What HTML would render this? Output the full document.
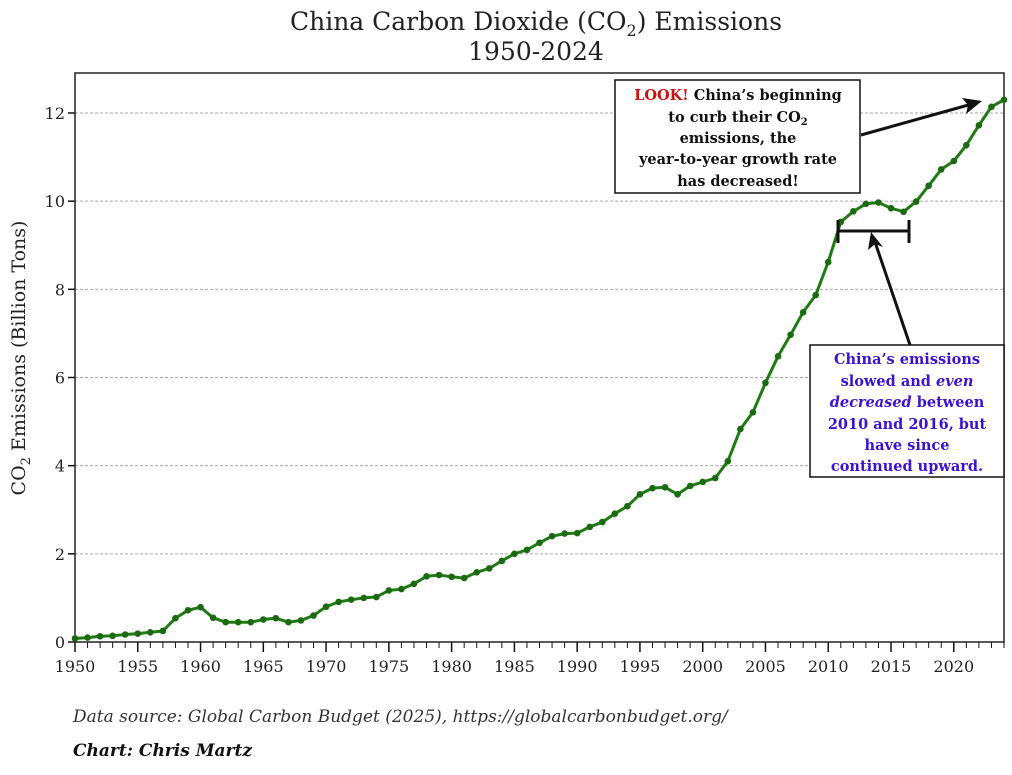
<!DOCTYPE html>
<html><head><meta charset="utf-8"><style>
body{margin:0;background:#fff;}
svg text{font-family:"DejaVu Serif","Liberation Serif",serif;}
</style></head><body>
<svg id="chart" width="1012" height="770" viewBox="0 0 1012 770" xmlns="http://www.w3.org/2000/svg">
<text x="536" y="30" text-anchor="middle" font-size="25" fill="#222">China Carbon Dioxide (CO<tspan font-size="16" dy="6">2</tspan><tspan dy="-6">) Emissions</tspan></text>
<text x="536" y="60" text-anchor="middle" font-size="25" fill="#222">1950-2024</text>
<g id="grid"></g>
<g id="axes"></g>
<path id="line" fill="none" stroke="#1f7a14" stroke-width="3"/>
<g id="points"></g>
<text transform="translate(25,358) rotate(-90)" text-anchor="middle" font-size="19" fill="#222">CO<tspan font-size="13" dy="5">2</tspan><tspan dy="-5"> Emissions (Billion Tons)</tspan></text>
<g stroke="#111" stroke-width="3">
<line x1="838" y1="231" x2="909" y2="231"/><line x1="838" y1="220" x2="838" y2="243"/><line x1="909" y1="220" x2="909" y2="243"/></g>
<g><line x1="861" y1="135" x2="972" y2="104" stroke="#111" stroke-width="3"/><path d="M982,101 L962,98 L968,105 L966,114 Z" fill="#111"/></g>
<g><line x1="910" y1="345" x2="875" y2="242" stroke="#111" stroke-width="3"/><path d="M871,232 L868,250 L875,244 L883,247 Z" fill="#111"/></g>
<rect x="615" y="80" width="245" height="113" fill="#fff" stroke="#111" stroke-width="1.5"/>
<g font-size="14.5" font-weight="bold" text-anchor="middle" fill="#111">
<text x="738" y="100"><tspan fill="#d01010">LOOK!</tspan> China’s beginning</text>
<text x="738" y="122">to curb their CO<tspan font-size="10" dy="3">2</tspan></text>
<text x="738" y="143">emissions, the</text>
<text x="738" y="164">year-to-year growth rate</text>
<text x="738" y="186">has decreased!</text></g>
<rect x="810" y="345" width="194" height="132" fill="#fff" stroke="#111" stroke-width="1.5"/>
<g font-size="14.5" font-weight="bold" text-anchor="middle" fill="#3a12d0">
<text x="907" y="364">China’s emissions</text>
<text x="907" y="386">slowed and <tspan font-style="italic">even</tspan></text>
<text x="907" y="407"><tspan font-style="italic">decreased</tspan> between</text>
<text x="907" y="429">2010 and 2016, but</text>
<text x="907" y="450">have since</text>
<text x="907" y="471">continued upward.</text></g>
<text x="73" y="722" font-size="17" font-style="italic" fill="#333">Data source: Global Carbon Budget (2025), https://globalcarbonbudget.org/</text>
<text x="73" y="756" font-size="17" font-style="italic" font-weight="bold" fill="#111">Chart: Chris Martz</text>
</svg>
<script>
const years=[];for(let y=1950;y<=2024;y++)years.push(y);
const emissions=[0.08,0.10,0.13,0.14,0.17,0.19,0.22,0.25,0.54,0.72,0.79,0.55,0.45,0.45,0.45,0.51,0.54,0.45,0.49,0.60,0.80,0.91,0.96,1.00,1.02,1.17,1.20,1.32,1.49,1.52,1.48,1.45,1.58,1.67,1.84,2.00,2.09,2.25,2.40,2.46,2.47,2.61,2.72,2.91,3.08,3.35,3.49,3.51,3.35,3.54,3.63,3.72,4.10,4.83,5.21,5.88,6.48,6.97,7.48,7.87,8.62,9.53,9.77,9.94,9.97,9.84,9.76,9.99,10.35,10.72,10.91,11.27,11.72,12.14,12.30];
const yTicks=[0,2,4,6,8,10,12];
const xTicks=[1950,1955,1960,1965,1970,1975,1980,1985,1990,1995,2000,2005,2010,2015,2020];
const L=75,R=1004,T=73,B=642,X0=1950,X1=2024,YMAX=(B-T)/((642-113)/12);
const NS="http://www.w3.org/2000/svg";
const xs=v=>L+(v-X0)/(X1-X0)*(R-L);
const ys=v=>B-v*(642-113)/12;
function mk(tag,attrs,parent){const e=document.createElementNS(NS,tag);for(const k in attrs)e.setAttribute(k,attrs[k]);parent.appendChild(e);return e;}
const grid=document.getElementById('grid'),axes=document.getElementById('axes'),pts=document.getElementById('points');
yTicks.forEach(t=>{
 if(t>0){const g=mk('line',{x1:L,x2:R,y1:ys(t),y2:ys(t),stroke:'#aaa','stroke-width':1,'stroke-dasharray':'3,2'},grid);
 
 }
 const tk=mk('line',{x1:L-7,x2:L,y1:ys(t),y2:ys(t),stroke:'#111','stroke-width':1.5},axes);
 
 
 const tx=mk('text',{x:L-10,y:ys(t)+6,'text-anchor':'end','font-size':16,fill:'#222'},axes);tx.textContent=t;
 
 
});
years.forEach(y=>{
 const major=xTicks.includes(y);
 const tk=mk('line',{x1:xs(y),x2:xs(y),y1:B,y2:B+(major?10:6),stroke:'#111','stroke-width':major?1.5:1},axes);
 
 
});
xTicks.forEach(y=>{
 const tx=mk('text',{x:xs(y),y:B+30,'text-anchor':'middle','font-size':16,fill:'#222'},axes);tx.textContent=y;
 
 
});
const fr=mk('rect',{x:L,y:T,width:R-L,height:B-T,fill:'none',stroke:'#222','stroke-width':1.5},axes);


document.getElementById('line').setAttribute('d',emissions.map((v,i)=>(i?'L':'M')+xs(years[i]).toFixed(1)+','+ys(v).toFixed(1)).join(''));
emissions.forEach((v,i)=>{
 const c=mk('circle',{cx:xs(years[i]),cy:ys(v),r:3.3,fill:'#1a6b10'},pts);
 
 
});
</script>
</body></html>
